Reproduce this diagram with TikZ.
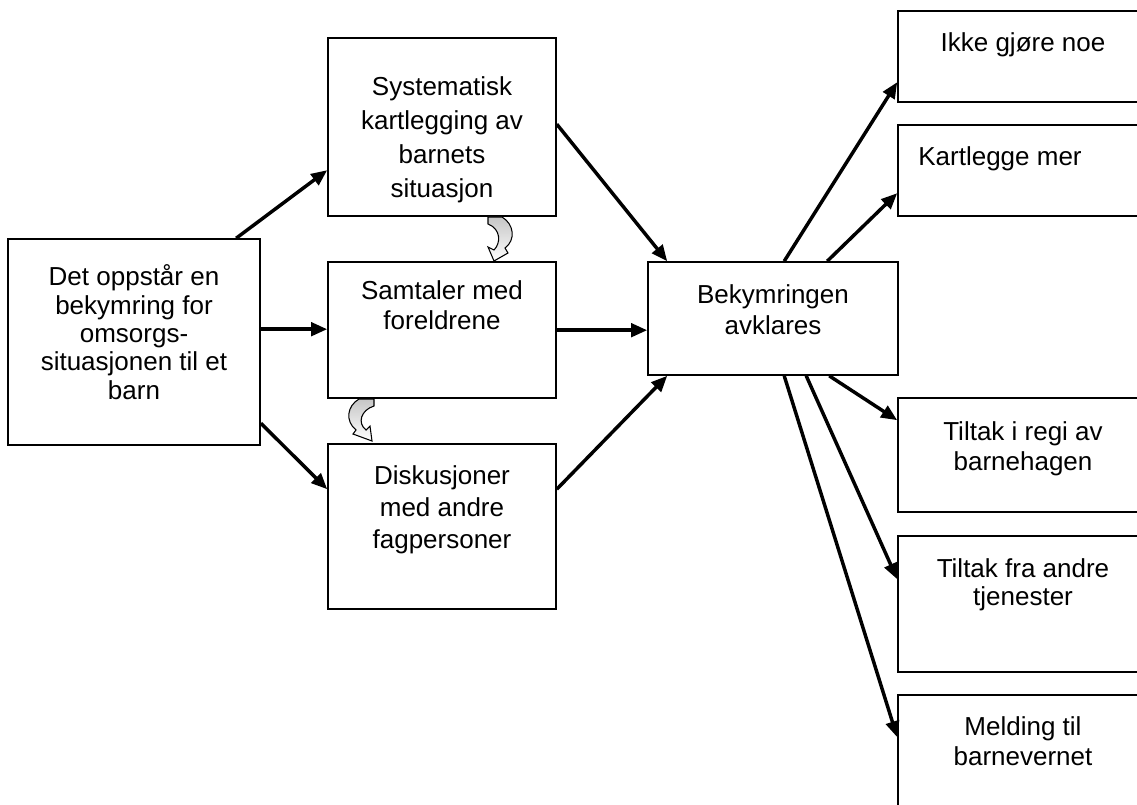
\documentclass[tikz,border=0pt]{standalone}
\usepackage{fontspec}
\setmainfont{Liberation Sans}
\usetikzlibrary{arrows.meta,calc}
\newcommand\boxtext[2]{\fontsize{19.5}{#1}\selectfont\begin{tabular}[t]{@{}c@{}}#2\end{tabular}}
\begin{document}
\begin{tikzpicture}[x=0.75pt,y=-0.75pt,
  box/.style={draw,line width=1.2pt,inner sep=0pt},
  txt/.style={anchor=base,inner sep=0pt},
  arr/.style={line width=2.6pt,-{Triangle[length=12pt,width=10pt]}},
  curv/.style={draw,line width=0.8pt,top color=gray!45,bottom color=white}]
\useasboundingbox (0,0) rectangle (1137,805);
\clip (0,0) rectangle (1137,805);
% boxes
\node[box,minimum width=189pt,minimum height=154.5pt] (A) at (134,342) {};
\node[box,minimum width=171pt,minimum height=133.5pt] (B) at (442,127) {};
\node[box,minimum width=171pt,minimum height=102pt] (C) at (442,330) {};
\node[box,minimum width=171pt,minimum height=123.75pt] (D) at (442,526.5) {};
\node[box,minimum width=187.5pt,minimum height=84.75pt] (E) at (773,318.5) {};
\node[box,minimum width=196.5pt,minimum height=68.25pt] (R1) at (1029,56.5) {};
\node[box,minimum width=196.5pt,minimum height=68.25pt] (R2) at (1029,170.5) {};
\node[box,minimum width=196.5pt,minimum height=85.5pt] (R3) at (1029,455) {};
\node[box,minimum width=196.5pt,minimum height=102pt] (R4) at (1029,604) {};
\node[box,minimum width=196.5pt,minimum height=112.5pt] (R5) at (1029,770) {};
% texts
\node[txt] (tA) at (134,286) {\boxtext{21.2pt}{Det oppstår en\\bekymring for\\omsorgs-\\situasjonen til et\\barn}};
\node[txt] (tB) at (442,96) {\boxtext{25.5pt}{Systematisk\\kartlegging av\\barnets\\situasjon}};
\node[txt] (tC) at (442,300) {\boxtext{22.5pt}{Samtaler med\\foreldrene}};
\node[txt] (tD) at (442,484) {\boxtext{24pt}{Diskusjoner\\med andre\\fagpersoner}};
\node[txt] (tE) at (773,304) {\boxtext{22.5pt}{Bekymringen\\avklares}};
\node[txt] (t1) at (1023,52) {\boxtext{22.5pt}{Ikke gjøre noe}};
\node[txt] (t2) at (1000,166) {\boxtext{22.5pt}{Kartlegge mer}};
\node[txt] (t3) at (1023,440) {\boxtext{22.5pt}{Tiltak i regi av\\barnehagen}};
\node[txt] (t4) at (1023,577) {\boxtext{21pt}{Tiltak fra andre\\tjenester}};
\node[txt] (t5) at (1023,735) {\boxtext{22.5pt}{Melding til\\barnevernet}};
% connectors
\draw[arr] ($(A.north west)+(229,0)$) -- ($(B.north west)+(0,133)$);
\draw[arr] ($(A.north east)+(0,91)$) -- ($(C.north west)+(0,68)$);
\draw[arr] ($(A.north east)+(0,185)$) -- ($(D.north west)+(0,46)$);
\draw[arr] ($(B.north east)+(0,87)$) -- ($(E.north west)+(20,0)$);
\draw[arr] ($(C.north east)+(0,69)$) -- ($(E.north west)+(0,69)$);
\draw[arr] ($(D.north east)+(0,46)$) -- ($(E.south west)+(20,0)$);
\draw[arr] ($(E.north west)+(137,0)$) -- ($(R1.north west)+(0,72)$);
\draw[arr] ($(E.north west)+(180,0)$) -- ($(R2.north west)+(0,69)$);
\draw[arr] ($(E.south west)+(182,0)$) -- ($(R3.north west)+(0,23)$);
\draw[arr] ($(E.south west)+(159,0)$) -- ($(R4.north west)+(0,44)$);
\draw[arr] ($(E.south west)+(137,0)$) -- ($(R5.north west)+(0,43)$);
% curved block arrows
\path[curv] (488,217) -- (502,217) .. controls (514,224) and (516,240) .. (505,248)
  -- (508,253) -- (494,261) -- (488,247) -- (494,250)
  .. controls (501,243) and (501,229) .. (488,224) -- cycle;
\path[curv] (374,399) -- (359,399) .. controls (347,406) and (345,421) .. (356,430)
  -- (353,434) -- (372,441) -- (370,426) -- (366,430)
  .. controls (357,423) and (361,410) .. (374,406) -- cycle;
\end{tikzpicture}
\end{document}
